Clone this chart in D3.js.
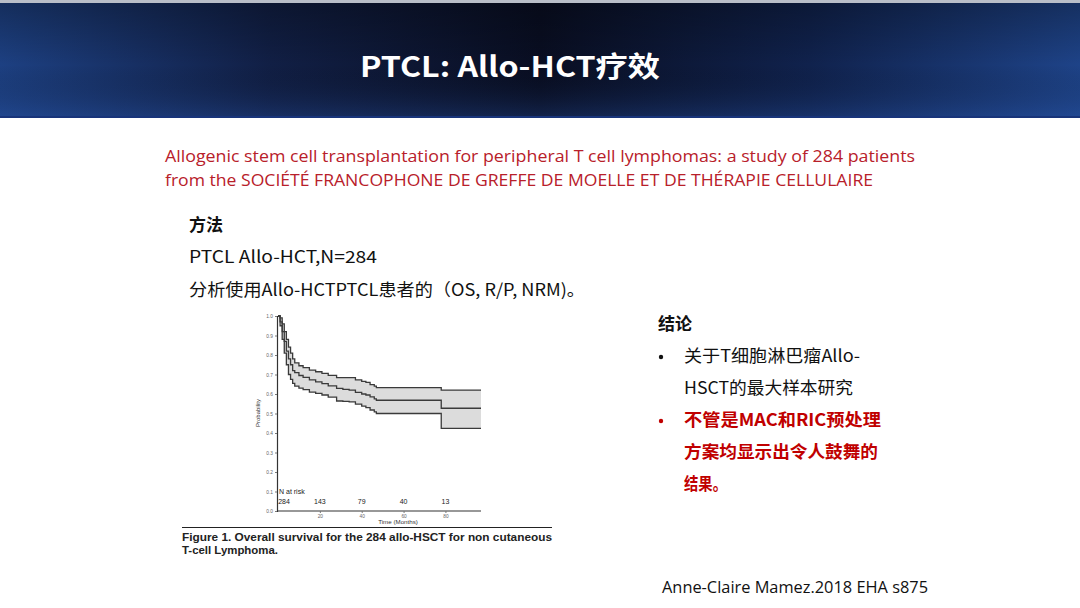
<!DOCTYPE html>
<html>
<head>
<meta charset="utf-8">
<script src="https://cdn.jsdelivr.net/npm/d3@7"></script>
<style>
  body { margin: 0; background: #fff; }
  svg { display: block; }
</style>
</head>
<body>
<div id="renderer"></div>
<script>
// survival curve (months, probability)
var months = [0, 1, 2, 3, 4, 5, 6, 7, 8, 10, 12, 15, 18, 21, 24, 28, 31, 34, 37, 40, 42, 44, 46, 47, 78, 97];
var os     = [1.0, 0.97, 0.92, 0.87, 0.82, 0.78, 0.75, 0.72, 0.71, 0.695, 0.685, 0.672, 0.662, 0.653, 0.642, 0.629, 0.624, 0.62, 0.608, 0.60, 0.595, 0.585, 0.575, 0.568, 0.527, 0.527];
var upper  = [1.0, 0.99, 0.96, 0.92, 0.88, 0.84, 0.81, 0.78, 0.76, 0.745, 0.735, 0.722, 0.714, 0.706, 0.696, 0.684, 0.684, 0.684, 0.672, 0.665, 0.66, 0.648, 0.64, 0.633, 0.62, 0.62];
var lower  = [1.0, 0.95, 0.88, 0.81, 0.75, 0.70, 0.675, 0.655, 0.64, 0.63, 0.622, 0.61, 0.603, 0.595, 0.584, 0.564, 0.562, 0.56, 0.548, 0.538, 0.53, 0.518, 0.508, 0.50, 0.424, 0.424];

var riskMonths = [0, 20, 40, 60, 80];
var riskN = [284, 143, 79, 40, 13];

var yTicks = [0, 0.1, 0.2, 0.3, 0.4, 0.5, 0.6, 0.7, 0.8, 0.9, 1.0];
var xTicks = [20, 40, 60, 80];

var methodLines = ['PTCL Allo-HCT,N=284', '分析使用Allo-HCTPTCL患者的（OS, R/P, NRM)。'];
var conclusionLines = ['关于T细胞淋巴瘤Allo-', 'HSCT的最大样本研究'];
var conclusionRed = ['不管是MAC和RIC预处理', '方案均显示出令人鼓舞的', '结果。'];

var W = 1080, H = 608;
var root = d3.select('#renderer').append('svg')
    .attr('width', W)
    .attr('height', H);

var defs = root.append('defs');
var grad = defs.append('linearGradient').attr('id', 'hdr')
    .attr('x1', 0).attr('x2', 1).attr('y1', 0).attr('y2', 0);
grad.append('stop').attr('offset', '0%').attr('stop-color', '#1d4082');
grad.append('stop').attr('offset', '25%').attr('stop-color', '#111f45');
grad.append('stop').attr('offset', '50%').attr('stop-color', '#090e22');
grad.append('stop').attr('offset', '75%').attr('stop-color', '#10224d');
grad.append('stop').attr('offset', '100%').attr('stop-color', '#1e4388');

var grad2 = defs.append('linearGradient').attr('id', 'hdrv')
    .attr('x1', 0).attr('x2', 0).attr('y1', 0).attr('y2', 1);
grad2.append('stop').attr('offset', '0%').attr('stop-color', '#000').attr('stop-opacity', 0.3);
grad2.append('stop').attr('offset', '55%').attr('stop-color', '#000').attr('stop-opacity', 0);
grad2.append('stop').attr('offset', '100%').attr('stop-color', '#2a58b0').attr('stop-opacity', 0.3);

// header band
root.append('rect').attr('x', 0).attr('y', 0).attr('width', W).attr('height', 118).attr('fill', 'url(#hdr)');
root.append('rect').attr('x', 0).attr('y', 0).attr('width', W).attr('height', 118).attr('fill', 'url(#hdrv)');
root.append('rect').attr('x', 0).attr('y', 0).attr('width', W).attr('height', 3).attr('fill', '#b9bec8');
root.append('rect').attr('x', 0).attr('y', 116).attr('width', W).attr('height', 2).attr('fill', '#18347a');

root.append('text')
    .attr('x', 510).attr('y', 77)
    .attr('text-anchor', 'middle')
    .attr('fill', '#fff')
    .attr('font-family', '"Noto Sans CJK SC", "Open Sans", sans-serif')
    .attr('font-weight', 'bold')
    .attr('font-size', 28)
    .attr('textLength', 300)
    .attr('lengthAdjust', 'spacingAndGlyphs')
    .text('PTCL: Allo-HCT疗效');

// red reference
var ref = root.append('g')
    .attr('fill', '#b8202a')
    .attr('font-family', '"Open Sans", "Noto Sans", sans-serif')
    .attr('font-size', 16);
ref.append('text').attr('x', 165).attr('y', 162)
    .attr('textLength', 750).attr('lengthAdjust', 'spacingAndGlyphs')
    .text('Allogenic stem cell transplantation for peripheral T cell lymphomas: a study of 284 patients');
ref.append('text').attr('x', 165).attr('y', 186)
    .attr('textLength', 708).attr('lengthAdjust', 'spacingAndGlyphs')
    .text('from the SOCIÉTÉ FRANCOPHONE DE GREFFE DE MOELLE ET DE THÉRAPIE CELLULAIRE');

var cjk = '"Noto Sans CJK SC", "Open Sans", sans-serif';

// methods block
root.append('text').attr('x', 189).attr('y', 231)
    .attr('font-family', cjk).attr('font-weight', 'bold').attr('font-size', 17)
    .attr('fill', '#111').text('方法');
var mWidths = [188, 396];
root.selectAll('.method').data(methodLines).enter().append('text')
    .attr('class', 'method')
    .attr('x', 189)
    .attr('y', function(d, i) { return 263 + i * 33; })
    .attr('font-family', cjk).attr('font-size', 17).attr('fill', '#111')
    .attr('textLength', function(d, i) { return mWidths[i]; })
    .attr('lengthAdjust', 'spacingAndGlyphs')
    .text(function(d) { return d; });

// conclusions block
root.append('text').attr('x', 658).attr('y', 330)
    .attr('font-family', cjk).attr('font-weight', 'bold').attr('font-size', 17)
    .attr('fill', '#111').text('结论');
var cWidths = [176, 169];
root.selectAll('.concl').data(conclusionLines).enter().append('text')
    .attr('class', 'concl')
    .attr('x', 684)
    .attr('y', function(d, i) { return 362 + i * 31.5; })
    .attr('font-family', cjk).attr('font-size', 17).attr('fill', '#111')
    .attr('textLength', function(d, i) { return cWidths[i]; })
    .attr('lengthAdjust', 'spacingAndGlyphs')
    .text(function(d) { return d; });
var rWidths = [197, 194, 43];
root.selectAll('.conclRed').data(conclusionRed).enter().append('text')
    .attr('class', 'conclRed')
    .attr('x', 684)
    .attr('y', function(d, i) { return 426 + i * 32; })
    .attr('font-family', cjk).attr('font-weight', 'bold').attr('font-size', 17).attr('fill', '#c00000')
    .attr('textLength', function(d, i) { return rWidths[i]; })
    .attr('lengthAdjust', 'spacingAndGlyphs')
    .text(function(d) { return d; });
root.append('circle').attr('cx', 661).attr('cy', 357).attr('r', 2.2).attr('fill', '#111');
root.append('circle').attr('cx', 661).attr('cy', 421).attr('r', 2.2).attr('fill', '#c00000');

// footer
root.append('text').attr('x', 662).attr('y', 593)
    .attr('font-family', '"Open Sans", "Noto Sans", sans-serif').attr('font-size', 16).attr('fill', '#111')
    .attr('textLength', 266).attr('lengthAdjust', 'spacingAndGlyphs')
    .text('Anne-Claire Mamez.2018 EHA s875');

// ---- KM figure ----
var x = d3.scaleLinear().domain([0, 97]).range([278, 481]);
var y = d3.scaleLinear().domain([0, 1]).range([511, 316]);

var fig = root.append('g');

var pts = months.map(function(m, i) {
    return { m: m, os: os[i], up: upper[i], lo: lower[i] };
});

fig.append('path')
    .datum(pts)
    .attr('fill', '#dcdcdc')
    .attr('d', d3.area()
        .curve(d3.curveStepAfter)
        .x(function(d) { return x(d.m); })
        .y0(function(d) { return y(d.lo); })
        .y1(function(d) { return y(d.up); }));

['up', 'os', 'lo'].forEach(function(k) {
    fig.append('path')
        .datum(pts)
        .attr('fill', 'none')
        .attr('stroke', '#3a3a3a')
        .attr('stroke-width', 1.3)
        .attr('d', d3.line()
            .curve(d3.curveStepAfter)
            .x(function(d) { return x(d.m); })
            .y(function(d) { return y(d[k]); }));
});

var yAxis = fig.append('g')
    .attr('transform', 'translate(' + 277 + ',0)')
    .call(d3.axisLeft(y).tickValues(yTicks).tickSize(2).tickPadding(2).tickFormat(d3.format('.1f')));
var xAxis = fig.append('g')
    .attr('transform', 'translate(0,' + 511 + ')')
    .call(d3.axisBottom(x).tickValues(xTicks).tickSize(2).tickPadding(2));
[yAxis, xAxis].forEach(function(a) {
    a.select('.domain').attr('stroke', '#333').attr('stroke-width', 1.2);
    a.selectAll('.tick line').attr('stroke', '#777');
    a.selectAll('.tick text').attr('font-size', 4.8).attr('fill', '#666')
        .attr('font-family', '"Liberation Sans", Arial, sans-serif');
});
xAxis.select('.domain').attr('d', 'M277,0H481');

fig.append('text')
    .attr('transform', 'translate(260,413) rotate(-90)')
    .attr('text-anchor', 'middle')
    .attr('font-family', '"Liberation Sans", Arial, sans-serif')
    .attr('font-size', 6).attr('fill', '#333')
    .text('Probability');
fig.append('text')
    .attr('x', 398).attr('y', 524)
    .attr('text-anchor', 'middle')
    .attr('font-family', '"Liberation Sans", Arial, sans-serif')
    .attr('font-size', 6.2).attr('fill', '#333')
    .text('Time (Months)');

fig.append('text')
    .attr('x', 279).attr('y', 494)
    .attr('font-family', '"Liberation Sans", Arial, sans-serif')
    .attr('font-size', 7).attr('fill', '#222')
    .text('N at risk');
fig.selectAll('.risk').data(riskN).enter().append('text')
    .attr('class', 'risk')
    .attr('x', function(d, i) { return i === 0 ? x(riskMonths[i]) + 6 : x(riskMonths[i]); })
    .attr('y', 504)
    .attr('text-anchor', 'middle')
    .attr('font-family', '"Liberation Sans", Arial, sans-serif')
    .attr('font-size', 7).attr('fill', '#222')
    .text(function(d) { return d; });

// caption
fig.append('line')
    .attr('x1', 182).attr('x2', 552).attr('y1', 527.5).attr('y2', 527.5)
    .attr('stroke', '#222').attr('stroke-width', 1);
var cap = fig.append('g')
    .attr('font-family', '"Liberation Sans", Arial, sans-serif')
    .attr('font-weight', 'bold').attr('font-size', 11).attr('fill', '#222');
cap.append('text').attr('x', 182).attr('y', 541)
    .attr('textLength', 370).attr('lengthAdjust', 'spacingAndGlyphs')
    .text('Figure 1. Overall survival for the 284 allo-HSCT for non cutaneous');
cap.append('text').attr('x', 182).attr('y', 553.5)
    .attr('textLength', 96).attr('lengthAdjust', 'spacingAndGlyphs')
    .text('T-cell Lymphoma.');
</script>
</body>
</html>
